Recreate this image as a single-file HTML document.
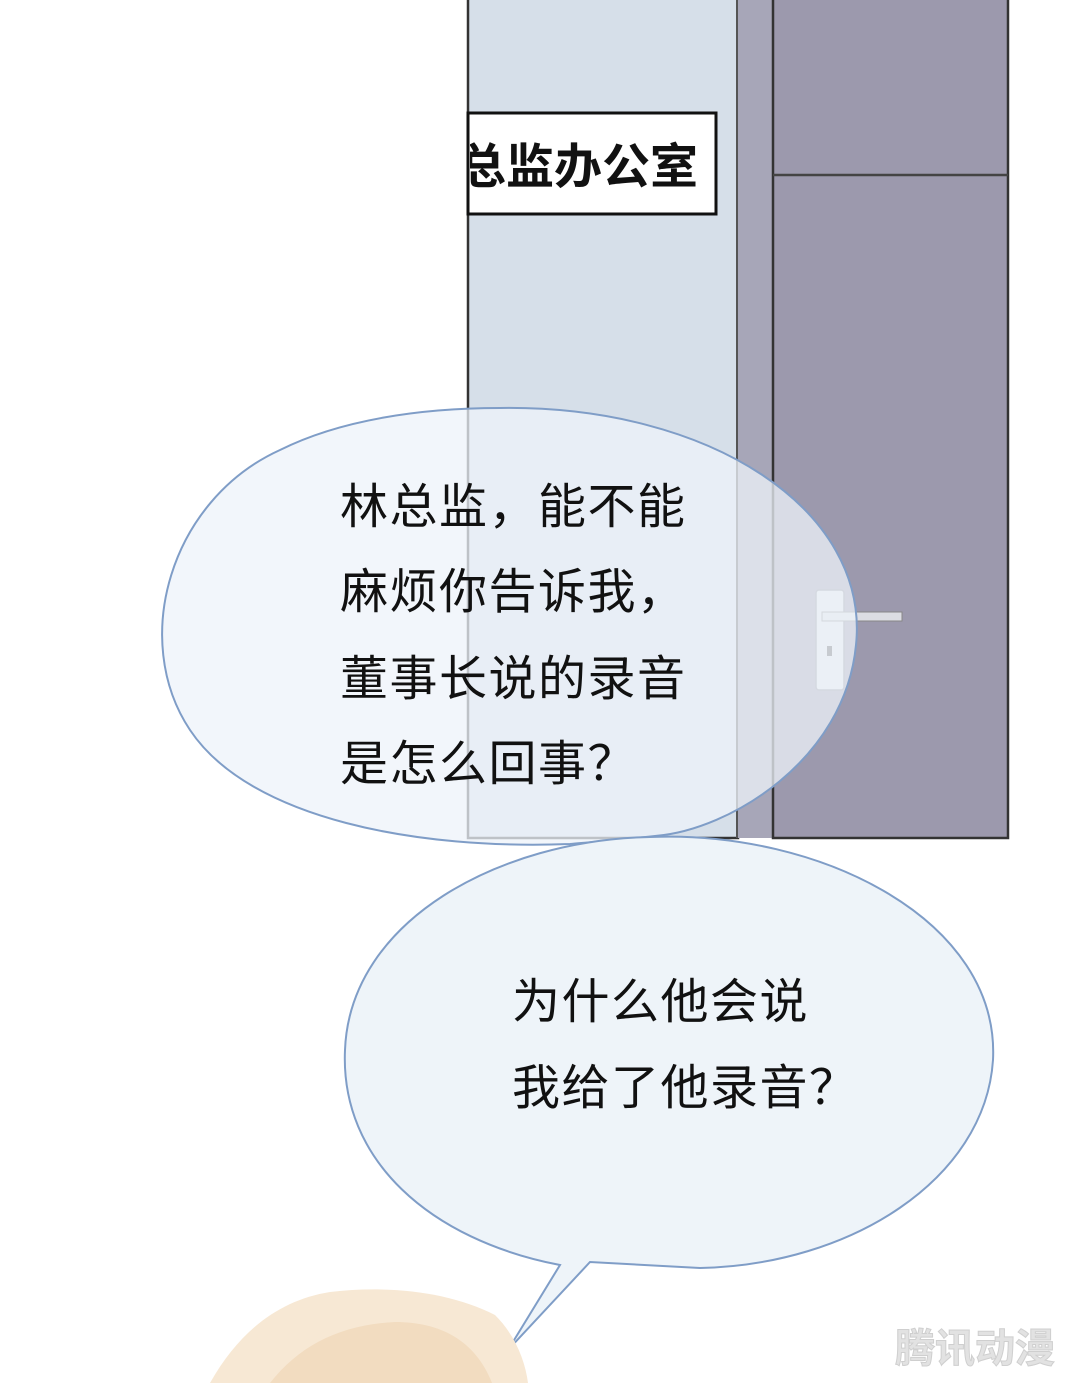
<!DOCTYPE html>
<html><head><meta charset="utf-8"><style>
html,body{margin:0;padding:0;background:#fff;}
svg{display:block}
text{font-family:"Liberation Sans","Noto Sans CJK SC",sans-serif;}
</style></head><body>
<svg width="1080" height="1383" viewBox="0 0 1080 1383" xmlns="http://www.w3.org/2000/svg">
<rect width="1080" height="1383" fill="#fff"/>
<rect x="468" y="-2" width="270" height="840" fill="#d6dfe9" stroke="#333" stroke-width="2.5"/>
<rect x="737" y="-2" width="37" height="840" fill="#a7a6b8"/>
<line x1="737" y1="0" x2="737" y2="838" stroke="#555" stroke-width="2"/>
<rect x="773" y="-2" width="235" height="840" fill="#9c99ad" stroke="#333" stroke-width="2.5"/>
<line x1="773" y1="175" x2="1008" y2="175" stroke="#444" stroke-width="2.5"/>
<rect x="816" y="590" width="28" height="100" rx="3" fill="#e4e6ec" stroke="#8b8d98" stroke-width="1.5"/>
<rect x="822" y="612" width="80" height="9" fill="#dcdde3" stroke="#888" stroke-width="1"/>
<rect x="827" y="646" width="5" height="10" fill="#555"/>
<rect x="468" y="113" width="248" height="101" fill="#fff" stroke="#111" stroke-width="3"/>
<svg x="470" y="115" width="244" height="97"><text x="-12" y="68" font-size="48" font-weight="bold" fill="#111">总监办公室</text></svg>
<path d="M500 408 C710 405 870 510 856 645 C845 760 730 830 655 836 C620 840 590 842 570 844 C420 850 250 820 190 730 C130 640 170 500 280 450 C340 420 420 408 500 408 Z" fill="#edf3f9" fill-opacity="0.75" stroke="#7f9dc7" stroke-width="2"/>
<text font-size="48" fill="#111" letter-spacing="1.5">
<tspan x="340" y="523">林总监，能不能</tspan>
<tspan x="340" y="608">麻烦你告诉我，</tspan>
<tspan x="340" y="695">董事长说的录音</tspan>
<tspan x="340" y="780">是怎么回事？</tspan>
</text>
<path d="M650 837 C820 830 1000 920 993 1060 C985 1180 850 1265 700 1268 L590 1262 L508 1350 L560 1265 C430 1240 340 1160 345 1050 C350 920 500 840 650 837 Z" fill="#eef4f9" stroke="#7f9dc7" stroke-width="2"/>
<text font-size="48" fill="#111" letter-spacing="1.5">
<tspan x="512" y="1018">为什么他会说</tspan>
<tspan x="512" y="1104">我给了他录音？</tspan>
</text>
<path d="M210 1383 C240 1330 280 1300 330 1292 C390 1285 450 1292 495 1315 C515 1335 525 1360 528 1383 Z" fill="#f7e8d4"/>
<path d="M270 1383 C300 1345 340 1325 395 1322 C440 1322 475 1340 492 1383 Z" fill="#f2dcc0"/>
<text x="895" y="1362" font-size="40" font-weight="bold" fill="#e2e2e2" stroke="#cfcfcf" stroke-width="1">腾讯动漫</text>
</svg>
</body></html>
